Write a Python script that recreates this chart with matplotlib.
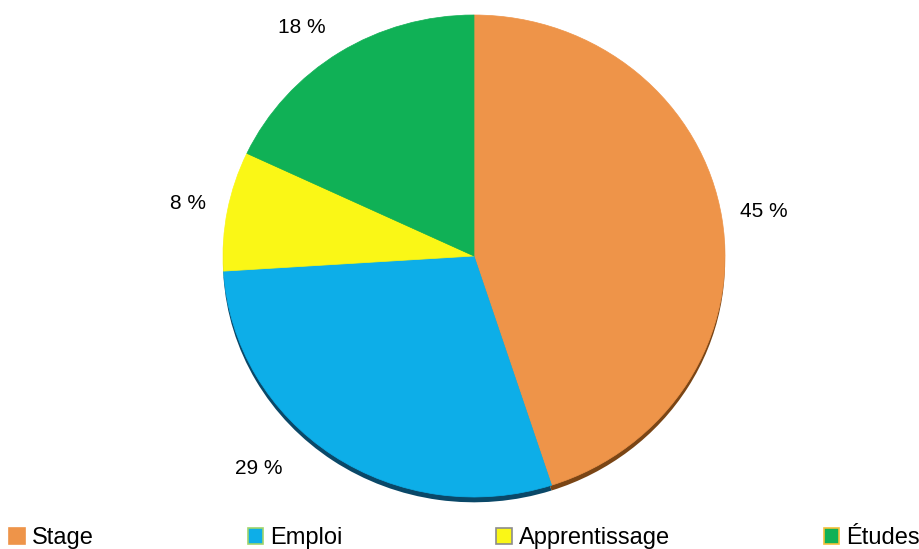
import numpy as np
import matplotlib
matplotlib.use("Agg")
import matplotlib.pyplot as plt
from matplotlib.patches import Patch

plt.rcParams["font.family"] = ["Liberation Sans", "DejaVu Sans"]

LABELS = ["Stage", "Emploi", "Apprentissage", "Études"]
VALUES = [45, 29, 8, 18]
COLORS = ["#EE9449", "#0DAEE8", "#FAF716", "#10B156"]
SHADOWS = ["#7a4515", "#0a4868", "#8a8a10", "#0a5a2a"]
EDGES = ["#EE9449", "#9fd46c", "#8c8c8c", "#f2c03a"]

W, H = 920, 549
fig = plt.figure(figsize=(W / 100, H / 100), dpi=100)

# pie centre and radii in pixels (the pie is slightly squashed vertically)
cx, cy, rx, ry = 474, 256, 251, 241
lim = 1.3
ax = fig.add_axes([(cx - lim * rx) / W, (H - cy - lim * ry) / H,
                   2 * lim * rx / W, 2 * lim * ry / H])

# thin dark rim under the pie
ax.pie(VALUES, colors=SHADOWS, startangle=90, counterclock=False,
       center=(0, -0.022), radius=1.0, wedgeprops=dict(linewidth=0))

wedges, texts = ax.pie(
    VALUES, colors=COLORS, startangle=90, counterclock=False,
    wedgeprops=dict(linewidth=0.5))
for w, c in zip(wedges, COLORS):
    w.set_edgecolor(c)

# percentage labels outside the slices (small angle tweaks like the source)
label_shift = [0, -10, 0, 3.5]
label_r = [1.17, 1.23, 1.16, 1.17]
total = sum(VALUES)
for w, v, d, r in zip(wedges, VALUES, label_shift, label_r):
    a = np.deg2rad(0.5 * (w.theta1 + w.theta2) + d)
    ax.text(r * np.cos(a), r * np.sin(a), "%.0f %%" % (100 * v / total),
            ha="center", va="center", fontsize=15, color="black")

ax.set_aspect("auto")
ax.set_xlim(-lim, lim)
ax.set_ylim(-lim, lim)
ax.axis("off")

handles = [Patch(facecolor=c, edgecolor=e, linewidth=1.2) for c, e in zip(COLORS, EDGES)]
fig.legend(handles, LABELS, loc="lower left", ncol=4, mode="expand",
           bbox_to_anchor=(0.01, 0.0, 0.99, 0.05), frameon=False,
           fontsize=17, handlelength=0.65, handleheight=0.65, handletextpad=0.3,
           borderaxespad=0, borderpad=0)

fig.savefig("out.png", dpi=100)
